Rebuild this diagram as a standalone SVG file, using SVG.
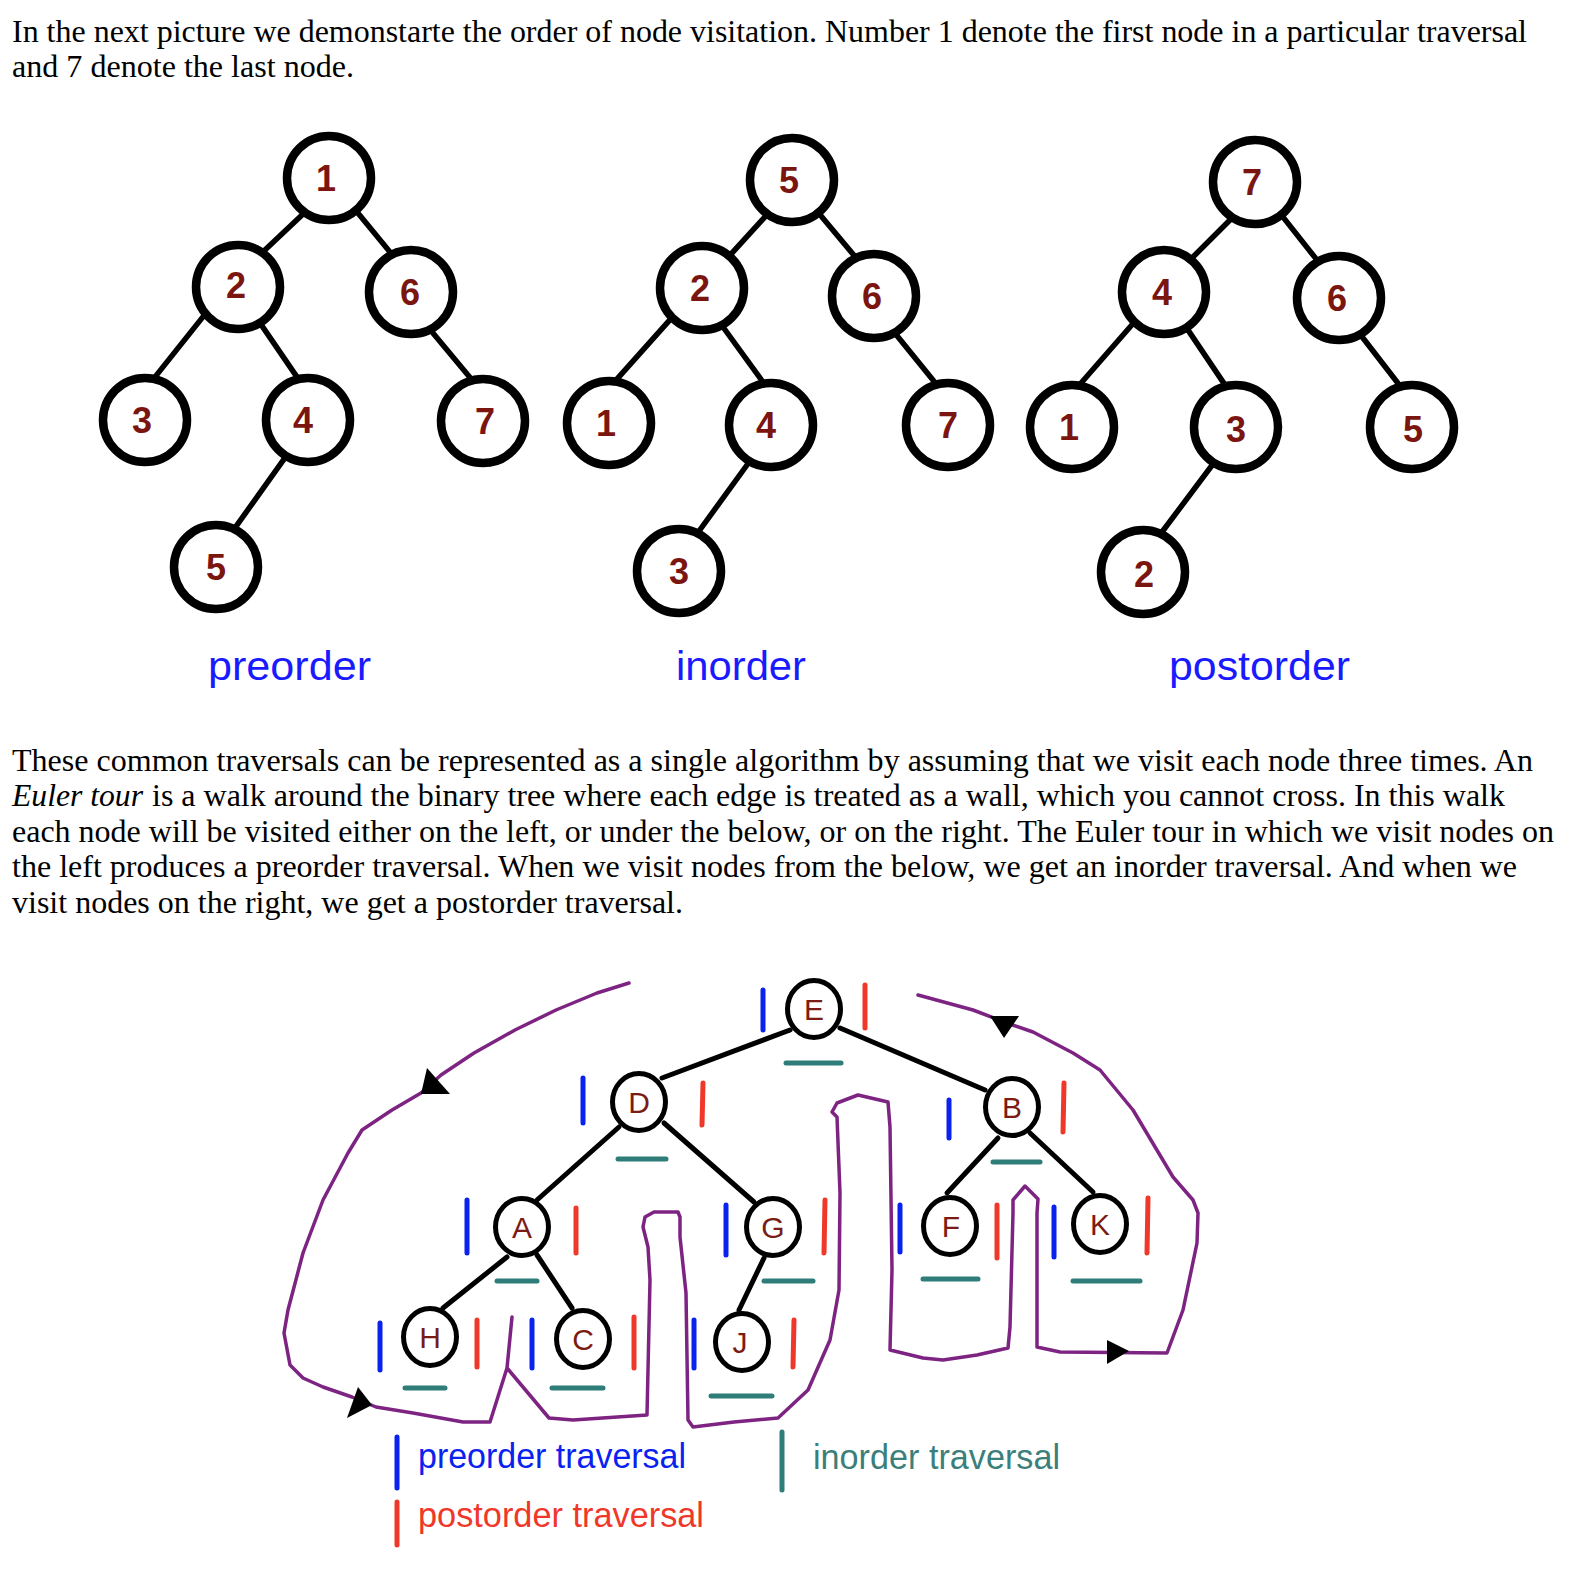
<svg xmlns="http://www.w3.org/2000/svg" width="1572" height="1594" viewBox="0 0 1572 1594">
<style>
.para{font-family:"Liberation Serif","Times New Roman",serif;font-size:32px;fill:#000}
.it{font-style:italic}
.bn{fill:#fff;stroke:#000;stroke-width:8.5}
.num{font-family:"Liberation Sans",Arial,sans-serif;font-weight:bold;font-size:36px;fill:#7b1510;text-anchor:middle}
.edge{stroke:#000;stroke-width:5.5;stroke-linecap:round;fill:none}
.lbl{font-family:"Liberation Sans",Arial,sans-serif;font-size:40px;fill:#1a1aff}
.en{fill:#fff;stroke:#000;stroke-width:5}
.elbl{font-family:"Liberation Sans",Arial,sans-serif;font-size:30px;fill:#7a1c14;text-anchor:middle}
.ee{stroke:#000;stroke-width:5;stroke-linecap:round;fill:none}
.pre{stroke:#0a22f0;stroke-width:5;stroke-linecap:round;fill:none}
.post{stroke:#f0382a;stroke-width:5;stroke-linecap:round;fill:none}
.in{stroke:#2f7d79;stroke-width:5;stroke-linecap:round;fill:none}
.tour{fill:none;stroke:#7d2382;stroke-width:3.5;stroke-linejoin:round;stroke-linecap:round}
.arr{fill:#000}
.leg{font-family:"Liberation Sans",Arial,sans-serif;font-size:35px}
</style>
<rect width="1572" height="1594" fill="#fff"/>

<g id="text-intro">
<text class="para" x="12" y="42" textLength="1515" lengthAdjust="spacingAndGlyphs">In the next picture we demonstarte the order of node visitation. Number 1 denote the first node in a particular traversal</text>
<text class="para" x="12" y="77" textLength="342" lengthAdjust="spacingAndGlyphs">and 7 denote the last node.</text>
</g>

<g id="connectors-trees">
<line class="edge" x1="303.6" y1="213.6" x2="264.4" y2="250.4"/>
<line class="edge" x1="353.8" y1="208.1" x2="393.2" y2="255.9"/>
<line class="edge" x1="205.1" y1="314.1" x2="151.9" y2="380.9"/>
<line class="edge" x1="257.2" y1="318.9" x2="299.8" y2="381.1"/>
<line class="edge" x1="429.8" y1="329.2" x2="475.2" y2="383.8"/>
<line class="edge" x1="284.9" y1="457.9" x2="234.1" y2="529.1"/>

<line class="edge" x1="765.4" y1="216.3" x2="729.6" y2="255.7"/>
<line class="edge" x1="818.8" y1="213.2" x2="855.2" y2="256.8"/>
<line class="edge" x1="670.3" y1="319.3" x2="614.7" y2="381.7"/>
<line class="edge" x1="720.1" y1="323" x2="762.9" y2="382"/>
<line class="edge" x1="894.8" y1="333.1" x2="936.2" y2="383.9"/>
<line class="edge" x1="749.9" y1="461" x2="699.1" y2="531"/>

<line class="edge" x1="1230.5" y1="219.5" x2="1193.5" y2="256.5"/>
<line class="edge" x1="1279.9" y1="213.1" x2="1316.1" y2="258.9"/>
<line class="edge" x1="1133.3" y1="323.2" x2="1078.7" y2="385.8"/>
<line class="edge" x1="1185.2" y1="325.9" x2="1225.8" y2="386.1"/>
<line class="edge" x1="1359.9" y1="334" x2="1400.1" y2="386"/>
<line class="edge" x1="1213" y1="464" x2="1162" y2="532"/>
</g>

<g id="tree-preorder">
<g id="pre-1"><circle class="bn" cx="329" cy="178" r="42"/><text class="num" x="326" y="191">1</text></g>
<g id="pre-2"><circle class="bn" cx="238" cy="287" r="42"/><text class="num" x="236" y="298">2</text></g>
<g id="pre-6"><circle class="bn" cx="411" cy="292" r="42"/><text class="num" x="410" y="305">6</text></g>
<g id="pre-3"><circle class="bn" cx="145" cy="420" r="42"/><text class="num" x="142" y="433">3</text></g>
<g id="pre-4"><circle class="bn" cx="308" cy="420" r="42"/><text class="num" x="303" y="433">4</text></g>
<g id="pre-7"><circle class="bn" cx="483" cy="421" r="42"/><text class="num" x="485" y="434">7</text></g>
<g id="pre-5"><circle class="bn" cx="216" cy="567" r="42"/><text class="num" x="216" y="580">5</text></g>
<text id="lbl-preorder" class="lbl" x="208" y="680" textLength="163" lengthAdjust="spacingAndGlyphs">preorder</text>
</g>

<g id="tree-inorder">
<g id="in-5"><circle class="bn" cx="792" cy="180" r="42"/><text class="num" x="789" y="193">5</text></g>
<g id="in-2"><circle class="bn" cx="702" cy="288" r="42"/><text class="num" x="700" y="301">2</text></g>
<g id="in-6"><circle class="bn" cx="874" cy="296" r="42"/><text class="num" x="872" y="309">6</text></g>
<g id="in-1"><circle class="bn" cx="609" cy="423" r="42"/><text class="num" x="606" y="436">1</text></g>
<g id="in-4"><circle class="bn" cx="771" cy="425" r="42"/><text class="num" x="766" y="438">4</text></g>
<g id="in-7"><circle class="bn" cx="948" cy="425" r="42"/><text class="num" x="948" y="438">7</text></g>
<g id="in-3"><circle class="bn" cx="679" cy="571" r="42"/><text class="num" x="679" y="584">3</text></g>
<text id="lbl-inorder" class="lbl" x="676" y="680" textLength="130" lengthAdjust="spacingAndGlyphs">inorder</text>
</g>

<g id="tree-postorder">
<g id="post-7"><circle class="bn" cx="1255" cy="182" r="42"/><text class="num" x="1252" y="195">7</text></g>
<g id="post-4"><circle class="bn" cx="1164" cy="292" r="42"/><text class="num" x="1162" y="305">4</text></g>
<g id="post-6"><circle class="bn" cx="1339" cy="298" r="42"/><text class="num" x="1337" y="311">6</text></g>
<g id="post-1"><circle class="bn" cx="1072" cy="427" r="42"/><text class="num" x="1069" y="440">1</text></g>
<g id="post-3"><circle class="bn" cx="1236" cy="427" r="42"/><text class="num" x="1236" y="442">3</text></g>
<g id="post-5"><circle class="bn" cx="1412" cy="427" r="42"/><text class="num" x="1413" y="442">5</text></g>
<g id="post-2"><circle class="bn" cx="1143" cy="572" r="42"/><text class="num" x="1144" y="587">2</text></g>
<text id="lbl-postorder" class="lbl" x="1169" y="680" textLength="181" lengthAdjust="spacingAndGlyphs">postorder</text>
</g>

<g id="text-euler">
<text class="para" x="12" y="771" textLength="1521" lengthAdjust="spacingAndGlyphs">These common traversals can be represented as a single algorithm by assuming that we visit each node three times. An</text>
<text class="para it" x="12" y="806" textLength="131" lengthAdjust="spacingAndGlyphs">Euler tour</text>
<text class="para" x="152" y="806" textLength="1353" lengthAdjust="spacingAndGlyphs">is a walk around the binary tree where each edge is treated as a wall, which you cannot cross. In this walk</text>
<text class="para" x="12" y="842" textLength="1542" lengthAdjust="spacingAndGlyphs">each node will be visited either on the left, or under the below, or on the right. The Euler tour in which we visit nodes on</text>
<text class="para" x="12" y="877" textLength="1505" lengthAdjust="spacingAndGlyphs">the left produces a preorder traversal. When we visit nodes from the below, we get an inorder traversal. And when we</text>
<text class="para" x="12" y="913" textLength="671" lengthAdjust="spacingAndGlyphs">visit nodes on the right, we get a postorder traversal.</text>
</g>

<g id="connectors-euler">
<path class="tour" d="M629,983 L597,993 L556,1010 L515,1030 L474,1053 L441,1075 L421,1093 L392,1110 L362,1130 L348,1153 L323,1200 L303,1253 L288,1310 L284,1333 L290,1365 L303,1378 L323,1387 L352,1397 L376,1407 L413,1413 L463,1422 L490,1422 L507,1368 L512,1317 L507,1368 L549,1418 L573,1420 L647,1415 L650,1280 L648,1247 L643,1227 L645,1217 L654,1212 L678,1212 L680,1217 L680,1237 L686,1293 L688,1420 L693,1427 L734,1422 L778,1418 L808,1390 L830,1340 L839,1290 L840,1193 L837,1117 L832,1112 L837,1103 L858,1095 L888,1102 L890,1127 L892,1270 L890,1350 L923,1358 L943,1360 L977,1355 L1008,1348 L1010,1327 L1013,1213 L1013,1200 L1025,1186 L1038,1199 L1037,1213 L1037,1347 L1060,1352 L1167,1353 L1183,1310 L1197,1243 L1198,1213 L1193,1200 L1173,1177 L1133,1110 L1100,1070 L1073,1053 L1033,1032 L1007,1023 L973,1010 L918,995"/>
<polygon class="arr" points="427,1068 421,1094 450,1094"/>
<polygon class="arr" points="358,1387 347,1418 372,1405"/>
<polygon class="arr" points="1107,1340 1107,1364 1129,1351"/>
<polygon class="arr" points="990,1016 1019,1016 1004,1038"/>

<line class="ee" x1="790" y1="1030" x2="662" y2="1078"/>
<line class="ee" x1="840" y1="1028" x2="985" y2="1090"/>
<line class="ee" x1="619" y1="1127" x2="537" y2="1200"/>
<line class="ee" x1="664" y1="1123" x2="754" y2="1202"/>
<line class="ee" x1="507" y1="1257" x2="443" y2="1308"/>
<line class="ee" x1="537" y1="1255" x2="572" y2="1308"/>
<line class="ee" x1="764" y1="1258" x2="739" y2="1310"/>
<line class="ee" x1="998" y1="1138" x2="947" y2="1193"/>
<line class="ee" x1="1030" y1="1133" x2="1093" y2="1192"/>
</g>

<g id="euler-nodes">
<g id="node-E"><ellipse class="en" cx="814" cy="1009" rx="26.5" ry="28.5"/><text class="elbl" x="814" y="1020">E</text></g>
<g id="node-D"><ellipse class="en" cx="639" cy="1102" rx="26.5" ry="28.5"/><text class="elbl" x="639" y="1113">D</text></g>
<g id="node-B"><ellipse class="en" cx="1012" cy="1107" rx="26.5" ry="28.5"/><text class="elbl" x="1012" y="1118">B</text></g>
<g id="node-A"><ellipse class="en" cx="522" cy="1227" rx="26.5" ry="28.5"/><text class="elbl" x="522" y="1238">A</text></g>
<g id="node-G"><ellipse class="en" cx="773" cy="1227" rx="26.5" ry="28.5"/><text class="elbl" x="773" y="1238">G</text></g>
<g id="node-F"><ellipse class="en" cx="950" cy="1226" rx="26.5" ry="28.5"/><text class="elbl" x="951" y="1237">F</text></g>
<g id="node-K"><ellipse class="en" cx="1100" cy="1224" rx="26.5" ry="28.5"/><text class="elbl" x="1100" y="1235">K</text></g>
<g id="node-H"><ellipse class="en" cx="430" cy="1337" rx="26.5" ry="28.5"/><text class="elbl" x="430" y="1348">H</text></g>
<g id="node-C"><ellipse class="en" cx="583" cy="1339" rx="26.5" ry="28.5"/><text class="elbl" x="583" y="1350">C</text></g>
<g id="node-J"><ellipse class="en" cx="742" cy="1342" rx="26.5" ry="28.5"/><text class="elbl" x="740" y="1353">J</text></g>
</g>

<g id="visit-marks">
<line class="pre" x1="763" y1="990" x2="763" y2="1030"/>
<line class="pre" x1="583" y1="1078" x2="583" y2="1123"/>
<line class="pre" x1="949" y1="1100" x2="949" y2="1138"/>
<line class="pre" x1="467" y1="1200" x2="467" y2="1253"/>
<line class="pre" x1="726" y1="1205" x2="726" y2="1255"/>
<line class="pre" x1="900" y1="1205" x2="900" y2="1252"/>
<line class="pre" x1="1054" y1="1207" x2="1054" y2="1257"/>
<line class="pre" x1="380" y1="1323" x2="380" y2="1370"/>
<line class="pre" x1="532" y1="1320" x2="532" y2="1368"/>
<line class="pre" x1="694" y1="1320" x2="694" y2="1368"/>

<line class="post" x1="865" y1="985" x2="865" y2="1028"/>
<line class="post" x1="703" y1="1083" x2="702" y2="1125"/>
<line class="post" x1="1064" y1="1083" x2="1063" y2="1132"/>
<line class="post" x1="576" y1="1208" x2="576" y2="1253"/>
<line class="post" x1="825" y1="1200" x2="824" y2="1253"/>
<line class="post" x1="997" y1="1205" x2="997" y2="1258"/>
<line class="post" x1="1148" y1="1198" x2="1147" y2="1253"/>
<line class="post" x1="477" y1="1320" x2="477" y2="1367"/>
<line class="post" x1="634" y1="1317" x2="634" y2="1368"/>
<line class="post" x1="794" y1="1320" x2="793" y2="1367"/>

<line class="in" x1="786" y1="1063" x2="841" y2="1063"/>
<line class="in" x1="618" y1="1159" x2="666" y2="1159"/>
<line class="in" x1="993" y1="1162" x2="1040" y2="1162"/>
<line class="in" x1="497" y1="1281" x2="537" y2="1281"/>
<line class="in" x1="764" y1="1281" x2="813" y2="1281"/>
<line class="in" x1="923" y1="1279" x2="978" y2="1279"/>
<line class="in" x1="1073" y1="1281" x2="1140" y2="1281"/>
<line class="in" x1="405" y1="1388" x2="445" y2="1388"/>
<line class="in" x1="552" y1="1388" x2="603" y2="1388"/>
<line class="in" x1="711" y1="1396" x2="772" y2="1396"/>
</g>

<g id="legend">
<line class="pre" x1="397" y1="1437" x2="397" y2="1488"/>
<text class="leg" x="418" y="1468" fill="#0a22f0" textLength="268" lengthAdjust="spacingAndGlyphs">preorder traversal</text>
<line class="post" x1="397" y1="1502" x2="397" y2="1545"/>
<text class="leg" x="418" y="1527" fill="#f0382a" textLength="286" lengthAdjust="spacingAndGlyphs">postorder traversal</text>
<line class="in" x1="782" y1="1432" x2="782" y2="1490"/>
<text class="leg" x="813" y="1469" fill="#3b7f7b" textLength="247" lengthAdjust="spacingAndGlyphs">inorder traversal</text>
</g>
</svg>
